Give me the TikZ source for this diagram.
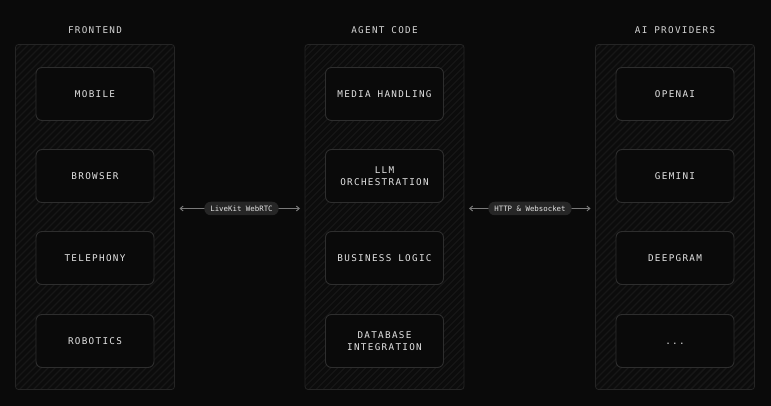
\documentclass[tikz,border=0pt]{standalone}
\usepackage{fontspec}
\newfontfamily\monolbl[LetterSpace=14]{DejaVu Sans Mono}
\newfontfamily\monopill{DejaVu Sans Mono}
\usetikzlibrary{arrows.meta}
\definecolor{bgc}{HTML}{0A0A0A}
\definecolor{panelfill}{HTML}{0C0C0C}
\definecolor{panelline}{HTML}{252525}
\definecolor{hatchc}{HTML}{171717}
\definecolor{boxline}{HTML}{2E2E2E}
\definecolor{txtc}{HTML}{E2E2E2}
\definecolor{titlec}{HTML}{D4D4D4}
\definecolor{arrowc}{HTML}{7A7A7A}
\definecolor{pillc}{HTML}{262626}
\begin{document}
\begin{tikzpicture}[x=1pt,y=-1pt,
  panelbox/.style={draw=panelline,line width=0.8pt,rounded corners=3pt,minimum width=159pt,minimum height=345pt,inner sep=0pt},
  itembox/.style={draw=boxline,line width=0.9pt,fill=bgc,rounded corners=6pt,minimum width=118pt,minimum height=53pt,align=center,text=txtc,font=\monolbl\fontsize{9.3}{12}\selectfont,inner sep=0pt},
  coltitle/.style={text=titlec,font=\monolbl\fontsize{9.3}{12}\selectfont},
  pill/.style={fill=pillc,rounded corners=6.5pt,text=txtc,font=\monopill\fontsize{7.4}{9}\selectfont,minimum height=13.5pt,inner xsep=6pt,inner ysep=0pt},
  conn/.style={draw=arrowc,line width=0.9pt,{Straight Barb[length=3pt,width=5pt]}-{Straight Barb[length=3pt,width=5pt]}}
]
\fill[bgc] (0,0) rectangle (771,406);
\useasboundingbox (0,0) rectangle (771,406);

% panels with hatching
\foreach \px/\nm in {95/pa,384.5/pb,675/pc}{
  \begin{scope}
    \clip[rounded corners=3pt] (\px-79.5,44.5) rectangle (\px+79.5,389.5);
    \fill[panelfill] (\px-79.5,44.5) rectangle (\px+79.5,389.5);
    \foreach \k in {0,7,...,525}{
      \draw[hatchc,line width=1.4pt] (\px-79.5+\k-360,389.5) -- (\px-79.5+\k,29.5);
    }
  \end{scope}
  \node[panelbox] (\nm) at (\px,217) {};
}

\node[coltitle] (t1) at (95,30) {FRONTEND};
\node[coltitle] (t2) at (384.5,30) {AGENT CODE};
\node[coltitle] (t3) at (675,30) {AI PROVIDERS};

% frontend
\node[itembox] (f1) at (95,94) {MOBILE};
\node[itembox] (f2) at (95,176) {BROWSER};
\node[itembox] (f3) at (95,258) {TELEPHONY};
\node[itembox] (f4) at (95,341) {ROBOTICS};

% agent code
\node[itembox] (a1) at (384.5,94) {MEDIA HANDLING};
\node[itembox] (a2) at (384.5,176) {LLM\\ORCHESTRATION};
\node[itembox] (a3) at (384.5,258) {BUSINESS LOGIC};
\node[itembox] (a4) at (384.5,341) {DATABASE\\INTEGRATION};

% AI providers
\node[itembox] (p1) at (675,94) {OPENAI};
\node[itembox] (p2) at (675,176) {GEMINI};
\node[itembox] (p3) at (675,258) {DEEPGRAM};
\node[itembox,text height=7pt,text depth=0pt] (p4) at (675,341) {...};

% connectors
\coordinate (c1a) at (179.5,208.5);
\coordinate (c1b) at (300,208.5);
\coordinate (c2a) at (469,208.5);
\coordinate (c2b) at (590.5,208.5);
\draw[conn] (c1a) -- (c1b);
\draw[conn] (c2a) -- (c2b);
\node[pill] (l1) at (241.5,208.5) {LiveKit WebRTC};
\node[pill] (l2) at (530,208.5) {HTTP \& Websocket};
\end{tikzpicture}
\end{document}
